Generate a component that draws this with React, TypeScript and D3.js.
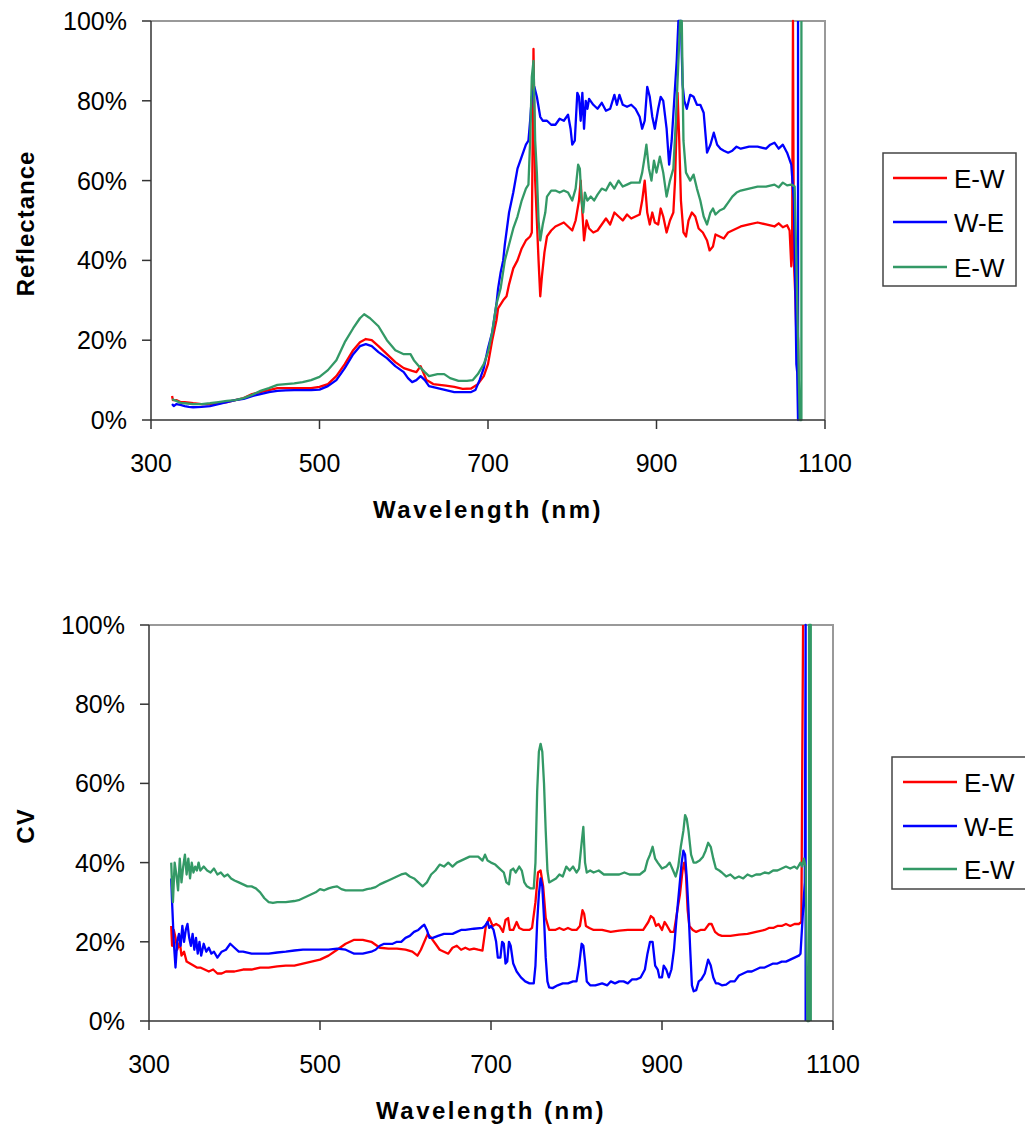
import React, { useRef, useEffect } from 'react';
import * as d3 from 'd3';

// wavelength (nm), percent
const reflEW1: [number, number][] = [
  [325, 6], [326, 5], [330, 5], [335, 4.5], [340, 4.5], [350, 4.2], [360, 4], [370, 4], [380, 4.2], [390, 4.5],
  [400, 5], [410, 5.5], [420, 6.5], [430, 7], [440, 7.5], [450, 8], [460, 8], [470, 8], [480, 8], [490, 8],
  [500, 8.3], [510, 9], [520, 11], [530, 14], [540, 17.5], [548, 19.5], [555, 20.3], [562, 20], [570, 18.5],
  [580, 16.5], [590, 14.5], [600, 13], [610, 12.3], [615, 12], [620, 13.5], [623, 12], [627, 10], [635, 9],
  [650, 8.6], [660, 8.3], [670, 7.8], [680, 7.9], [688, 9], [695, 11], [700, 14], [705, 20], [710, 25], [712, 28],
  [718, 30], [722, 31], [725, 34], [730, 38], [735, 40], [740, 43], [745, 45], [750, 46], [752, 47], [754, 93],
  [756, 60], [758, 50], [760, 40], [762, 31], [764, 36], [767, 42], [770, 46], [775, 47.5], [780, 48.5], [785, 49],
  [790, 49.5], [795, 48.5], [800, 47.5], [804, 50], [808, 55], [810, 60], [812, 52], [814, 45], [817, 50], [820, 48],
  [825, 47], [830, 47.5], [835, 49], [840, 50.5], [845, 49], [850, 52], [855, 51], [860, 50], [865, 51.5], [870, 50.5],
  [875, 51], [880, 51.5], [883, 55], [886, 60], [889, 52], [892, 49], [895, 52], [898, 49.5], [902, 49], [905, 53],
  [908, 51], [912, 47], [916, 50], [920, 52], [922, 60], [925, 82], [927, 70], [929, 55], [932, 47], [935, 46],
  [938, 50], [942, 52], [946, 51], [950, 48], [955, 47], [960, 45], [963, 42.5], [967, 43.5], [970, 46.5], [975, 46],
  [980, 45.5], [985, 47], [990, 47.5], [1000, 48.5], [1010, 49], [1020, 49.5], [1030, 49], [1040, 48.5], [1045, 49.3],
  [1050, 48.3], [1055, 48.8], [1058, 47.5], [1060, 38.5], [1061, 46], [1062, 100], [1063, 40], [1065, 30], [1066, 21],
  [1067, 25], [1068, 20], [1069, 0]
];

const reflWE: [number, number][] = [
  [325, 4], [327, 3.5], [330, 4], [335, 3.8], [340, 3.5], [345, 3.3], [350, 3.2], [360, 3.3], [370, 3.5], [380, 4],
  [390, 4.5], [400, 5], [410, 5.3], [420, 6], [430, 6.5], [440, 7], [450, 7.3], [460, 7.4], [470, 7.5], [480, 7.5],
  [490, 7.5], [500, 7.6], [510, 8.5], [520, 10], [530, 13], [540, 16.5], [548, 18.5], [555, 19], [562, 18.5], [570, 17],
  [580, 15.5], [590, 13.5], [600, 12], [605, 10.5], [610, 9.5], [615, 10], [620, 11], [625, 10], [630, 8.5], [640, 8],
  [650, 7.5], [660, 7], [670, 7], [680, 7], [685, 7.5], [690, 10], [695, 13], [700, 18], [705, 22], [710, 29], [712, 33],
  [715, 37], [718, 40], [720, 44], [725, 52], [730, 57], [735, 63], [740, 66], [745, 69], [748, 70], [750, 75], [752, 81],
  [755, 83.5], [758, 81], [762, 76], [765, 75], [770, 75], [775, 74], [780, 74], [785, 75.5], [790, 75], [795, 76.5],
  [798, 73], [800, 69], [803, 70], [806, 82], [808, 81], [810, 75], [812, 82], [814, 73], [816, 80], [818, 78],
  [820, 80.5], [825, 79], [830, 78], [835, 79.5], [840, 77.5], [845, 78], [850, 81.5], [853, 79], [856, 81.5], [860, 79],
  [865, 78.5], [870, 79], [875, 78], [880, 76], [883, 73], [886, 75], [889, 83.5], [892, 81], [895, 76], [898, 73],
  [902, 78], [905, 81], [908, 80], [912, 73], [915, 64], [918, 70], [921, 80], [924, 90], [926, 100], [929, 100],
  [931, 84], [933, 80], [936, 78], [940, 81.5], [944, 81], [948, 79], [952, 79], [956, 77], [960, 67], [964, 69],
  [968, 72], [972, 69], [976, 68], [980, 67.5], [985, 67], [990, 67.5], [995, 68.5], [1000, 68], [1010, 68.5],
  [1020, 68.5], [1030, 68], [1035, 69], [1040, 69.5], [1045, 68], [1050, 69], [1055, 67], [1060, 64], [1063, 55],
  [1065, 30], [1066, 14], [1067, 12], [1068, 0], [1068, 100]
];

const reflEW2: [number, number][] = [
  [325, 5.2], [330, 4.8], [335, 4.3], [340, 4.2], [350, 4], [360, 4], [370, 4.2], [380, 4.5], [390, 4.8], [400, 5],
  [410, 5.5], [420, 6.3], [430, 7.3], [440, 8], [450, 8.8], [460, 9], [470, 9.2], [480, 9.5], [490, 10], [500, 10.8],
  [510, 12.5], [520, 15], [530, 19.5], [540, 23], [548, 25.5], [553, 26.5], [560, 25.5], [570, 23.5], [580, 20],
  [590, 17.5], [600, 16.5], [608, 16.5], [612, 15], [618, 13.5], [625, 12], [630, 11], [640, 11.5], [648, 11.5],
  [655, 10.5], [665, 9.8], [675, 9.8], [682, 10], [688, 11.5], [695, 14], [700, 17], [705, 22], [710, 29], [715, 33],
  [720, 40], [725, 44], [730, 48], [735, 51], [740, 55], [745, 58], [748, 59], [750, 70], [752, 86], [754, 90],
  [756, 70], [758, 62], [760, 50], [762, 45], [765, 49], [768, 52], [770, 56], [775, 57.5], [780, 57.5], [785, 57],
  [790, 57.5], [795, 57], [800, 55], [804, 58], [807, 64], [809, 63], [811, 55], [813, 52], [815, 57], [818, 55],
  [822, 56], [826, 55], [830, 56.5], [835, 58], [840, 57.5], [845, 59.5], [850, 58], [855, 60], [860, 58.5], [865, 59],
  [870, 59.5], [875, 59.5], [880, 59.5], [883, 62], [886, 66], [888, 69], [891, 63], [894, 60], [897, 65], [900, 62],
  [904, 66], [908, 62], [912, 56], [916, 60], [920, 63], [923, 75], [926, 90], [928, 100], [930, 100], [932, 70],
  [935, 62], [940, 60], [944, 61.5], [948, 58], [952, 55], [956, 51], [960, 49], [964, 52], [967, 53], [970, 51.5],
  [975, 52.5], [980, 53], [985, 54.5], [990, 56], [995, 57], [1000, 57.5], [1010, 58], [1020, 58.5], [1030, 58.5],
  [1040, 59], [1045, 58.3], [1050, 59.5], [1055, 58.8], [1060, 59], [1064, 58.5], [1066, 40], [1070, 0], [1072, 0],
  [1072, 100]
];

const cvEW1: [number, number][] = [
  [326, 24], [327, 19], [329, 23], [331, 21], [333, 18], [336, 20], [338, 16.5], [341, 17.5], [344, 15], [348, 14.5],
  [352, 14], [356, 13.5], [360, 13.5], [365, 13], [370, 12.5], [375, 13], [380, 12], [385, 12], [390, 12.5], [400, 12.5],
  [410, 13], [420, 13], [430, 13.5], [440, 13.5], [450, 13.8], [460, 14], [470, 14], [480, 14.5], [490, 15], [500, 15.5],
  [510, 16.5], [520, 18], [530, 19.5], [540, 20.5], [550, 20.5], [560, 20], [570, 18.5], [580, 18.3], [590, 18.3],
  [600, 18], [608, 17.5], [614, 16.5], [618, 18], [622, 20], [626, 22], [630, 21], [635, 19.5], [640, 18], [645, 17.5],
  [650, 17], [655, 18.5], [660, 19], [665, 18], [670, 18.5], [675, 18], [680, 18.3], [685, 18], [690, 17.8], [694, 24],
  [698, 26], [702, 24], [706, 24.5], [710, 24], [714, 22.5], [717, 25.5], [720, 26], [722, 23], [726, 23], [730, 25],
  [733, 23.5], [738, 23], [745, 23], [748, 23.5], [752, 30], [755, 37.5], [758, 38], [761, 34], [764, 26], [768, 23],
  [775, 23], [780, 23.5], [785, 23], [790, 23.5], [795, 23], [800, 23], [804, 24], [807, 28], [809, 27], [811, 24],
  [815, 23.5], [820, 23], [830, 23], [840, 22.5], [850, 22.8], [860, 23], [870, 23], [878, 23], [884, 25], [887, 26.5],
  [890, 26], [893, 24], [896, 24.5], [900, 23], [903, 25], [906, 24], [910, 22.5], [914, 22.5], [918, 28], [921, 32],
  [924, 38], [926, 40], [928, 37], [930, 28], [932, 24], [936, 23], [940, 22.5], [945, 23], [950, 23], [955, 24.5],
  [958, 24.5], [962, 22.5], [966, 21.8], [970, 21.5], [980, 21.5], [990, 21.8], [1000, 22], [1010, 22.5], [1020, 23],
  [1025, 23.5], [1030, 23.5], [1035, 24], [1040, 24], [1045, 24.5], [1050, 24], [1055, 24.5], [1060, 24.5],
  [1063, 25], [1065, 100]
];

const cvWE: [number, number][] = [
  [326, 36], [327, 30], [329, 20], [331, 13.5], [333, 20], [335, 22], [337, 19], [339, 24], [341, 20], [343, 23],
  [345, 24.5], [347, 21], [349, 19], [351, 22], [353, 18], [355, 21], [357, 17], [359, 20], [361, 16.5], [364, 19.5],
  [367, 17.5], [370, 18.5], [373, 17], [376, 17.5], [380, 16], [385, 17.5], [390, 18], [395, 19.5], [400, 18.5],
  [405, 17.5], [410, 17.5], [420, 17], [430, 17], [440, 17], [450, 17.3], [460, 17.5], [470, 17.8], [480, 18], [490, 18],
  [500, 18], [510, 18], [520, 18.3], [530, 18], [540, 17], [550, 17], [560, 17.5], [565, 18], [570, 19], [575, 19.5],
  [580, 19.5], [585, 19.5], [590, 20], [595, 20], [600, 21], [605, 21.5], [610, 22.5], [615, 23], [620, 24], [622, 24.3],
  [625, 23], [628, 21], [632, 21], [638, 21.5], [645, 22], [650, 22], [655, 22], [660, 22.5], [665, 23], [670, 23],
  [680, 23.3], [690, 23.5], [693, 24], [696, 25], [698, 23.5], [700, 24], [703, 23], [706, 20], [708, 16], [711, 16],
  [713, 20], [715, 19.5], [717, 14.5], [719, 15], [721, 20], [723, 19], [726, 14.5], [730, 12.5], [735, 11], [740, 10],
  [745, 9.5], [750, 9.5], [752, 14], [754, 25], [756, 32], [758, 36], [760, 34], [762, 26], [764, 16], [766, 10],
  [768, 8.5], [772, 8.3], [778, 9], [784, 9.5], [790, 9.5], [796, 10], [800, 10], [803, 14], [806, 19.5], [808, 19],
  [810, 15], [812, 10], [816, 9], [822, 9], [830, 9.5], [836, 9], [840, 10], [845, 9.5], [850, 10], [855, 10],
  [860, 9.5], [865, 10.5], [870, 10.5], [875, 11], [880, 13], [883, 17], [886, 20], [889, 20], [892, 14], [895, 13],
  [897, 11], [900, 11], [902, 14], [905, 13], [908, 11], [911, 13], [914, 18], [917, 26], [920, 33], [923, 40],
  [925, 43], [927, 42], [929, 36], [931, 28], [933, 18], [935, 9], [937, 7.5], [940, 7.8], [943, 10], [946, 10.5],
  [950, 12], [954, 15.5], [957, 14], [960, 11], [963, 9.5], [966, 9.5], [970, 9], [975, 9.2], [980, 10], [985, 10],
  [990, 11.5], [995, 12], [1000, 12.5], [1005, 12.5], [1010, 13], [1015, 13.5], [1020, 13.5], [1025, 14], [1030, 14.5],
  [1035, 14.5], [1040, 15], [1045, 15], [1050, 15.5], [1055, 16], [1060, 16.5], [1062, 17], [1065, 28], [1067, 35],
  [1068, 100], [1068, 0]
];

const cvEW2: [number, number][] = [
  [326, 40], [327, 34], [328, 30], [330, 40], [332, 37], [334, 33], [336, 41], [338, 35], [340, 39], [342, 42],
  [344, 37], [346, 41], [348, 36], [350, 40], [352, 37.5], [354, 39], [356, 38], [358, 40], [360, 38], [364, 39],
  [368, 38], [372, 37.5], [376, 38.5], [380, 37], [384, 37.5], [388, 36.5], [392, 37], [396, 36], [400, 35.5],
  [405, 35], [410, 34.5], [415, 34], [420, 34], [425, 33.5], [430, 32.5], [435, 31], [440, 30], [445, 29.8], [450, 30],
  [460, 30], [470, 30.3], [475, 30.5], [480, 31], [485, 31.5], [490, 32], [495, 32.5], [500, 33.3], [505, 33],
  [510, 33.5], [515, 33.8], [520, 34], [525, 33.3], [530, 33], [540, 33], [550, 33], [555, 33.3], [560, 33.5],
  [565, 33.8], [570, 34.5], [575, 35], [580, 35.5], [585, 36], [590, 36.5], [595, 37], [600, 37.3], [605, 36.5],
  [610, 36], [615, 35], [620, 34], [625, 35], [630, 37], [635, 38], [640, 39.5], [645, 39], [650, 40], [655, 39],
  [660, 40], [665, 40.5], [670, 41], [675, 41.5], [680, 41.5], [685, 41.5], [690, 40.5], [693, 42], [696, 40.5],
  [700, 40], [705, 39.5], [710, 38.5], [715, 37.5], [718, 35], [721, 34.5], [723, 38], [726, 38.5], [729, 37.5],
  [733, 39], [736, 38], [739, 35], [742, 34], [746, 33.5], [750, 33.5], [752, 40], [754, 58], [756, 68], [758, 70],
  [760, 68], [762, 60], [764, 48], [766, 38], [768, 35], [772, 35.5], [776, 36], [780, 37], [784, 36.5], [788, 39],
  [792, 38], [796, 39], [800, 37.5], [803, 38.5], [806, 45], [808, 49], [810, 40], [812, 37.5], [816, 38], [820, 37.5],
  [826, 38], [832, 37], [838, 37], [844, 37], [850, 37], [856, 37.5], [862, 37], [868, 37], [874, 37], [880, 38],
  [883, 40.5], [886, 42], [889, 44], [892, 41], [895, 40], [900, 38.5], [905, 39], [909, 40], [913, 38], [916, 36.5],
  [919, 39], [922, 44], [925, 48], [927, 52], [929, 51], [931, 48], [934, 42], [937, 40], [940, 40], [944, 40.5],
  [948, 41.5], [951, 43], [954, 45], [957, 44], [960, 41], [963, 38.5], [967, 38], [970, 37.5], [975, 36.5], [980, 37],
  [985, 36], [990, 36.5], [995, 36], [1000, 37], [1005, 36.5], [1010, 37], [1015, 37], [1020, 37.5], [1025, 37.3],
  [1030, 38], [1035, 38], [1040, 38.5], [1045, 39], [1050, 38.5], [1055, 39], [1058, 38.5], [1062, 40], [1064, 39],
  [1066, 41], [1068, 39], [1070, 0], [1072, 0], [1072, 100], [1074, 100], [1074, 0]
];

const seriesNames = ['E-W', 'W-E', 'E-W'];
const seriesColors = ['#ff0000', '#0000ff', '#339966'];
const xTicks = [300, 500, 700, 900, 1100];
const yTicks = [0, 20, 40, 60, 80, 100];

const FONT = '"Liberation Sans", Arial, sans-serif';

type ChartCfg = {
  series: [number, number][][];
  yTitle: string;
  left: number; right: number; top: number; bottom: number;
  legend: { x: number; y: number; w: number; h: number; rows: number[]; lineX: [number, number]; textX: number };
};

const charts: ChartCfg[] = [
  {
    series: [reflEW1, reflWE, reflEW2],
    yTitle: 'Reflectance',
    left: 151, right: 825, top: 21, bottom: 420,
    legend: { x: 883, y: 153, w: 133, h: 133, rows: [178, 222, 267], lineX: [893, 947], textX: 954 }
  },
  {
    series: [cvEW1, cvWE, cvEW2],
    yTitle: 'CV',
    left: 149, right: 833, top: 625, bottom: 1021,
    legend: { x: 892, y: 757, w: 140, h: 132, rows: [782, 826, 869], lineX: [903, 957], textX: 964 }
  }
];

const App = () => {
  const svgRef = useRef<SVGSVGElement>(null);

  useEffect(() => {
    const svg = d3.select(svgRef.current);
    svg.selectAll('*').remove();

    charts.forEach(c => {
      const x = d3.scaleLinear().domain([300, 1100]).range([c.left, c.right]);
      const y = d3.scaleLinear().domain([0, 100]).range([c.bottom, c.top]);
      const g = svg.append('g');

      // gray frame top/right
      g.append('path')
        .attr('d', `M${c.left},${c.top}H${c.right}V${c.bottom}`)
        .attr('fill', 'none')
        .attr('stroke', '#999')
        .attr('stroke-width', 2);

      const line = d3.line<[number, number]>()
        .x(d => x(d[0]))
        .y(d => y(d[1]));

      c.series.forEach((s, i) => {
        g.append('path')
          .datum(s)
          .attr('d', line)
          .attr('fill', 'none')
          .attr('stroke', seriesColors[i])
          .attr('stroke-width', 2.3)
          .attr('stroke-linejoin', 'round');
      });

      // y axis
      g.append('line')
        .attr('x1', c.left).attr('x2', c.left)
        .attr('y1', c.top).attr('y2', c.bottom)
        .attr('stroke', '#333').attr('stroke-width', 1.5);
      yTicks.forEach(t => {
        g.append('line')
          .attr('x1', c.left - 9).attr('x2', c.left)
          .attr('y1', y(t)).attr('y2', y(t))
          .attr('stroke', '#333').attr('stroke-width', 1.5);
        g.append('text')
          .attr('x', c.left - 24)
          .attr('y', y(t) + 9)
          .attr('text-anchor', 'end')
          .style('font-family', FONT)
          .style('font-size', '25px')
          .text(t + '%');
      });

      // x axis
      g.append('line')
        .attr('x1', c.left).attr('x2', c.right)
        .attr('y1', c.bottom).attr('y2', c.bottom)
        .attr('stroke', '#333').attr('stroke-width', 1.5);
      xTicks.forEach(t => {
        g.append('line')
          .attr('x1', x(t)).attr('x2', x(t))
          .attr('y1', c.bottom).attr('y2', c.bottom + 9)
          .attr('stroke', '#333').attr('stroke-width', 1.5);
        g.append('text')
          .attr('x', x(t))
          .attr('y', c.bottom + 52)
          .attr('text-anchor', 'middle')
          .style('font-family', FONT)
          .style('font-size', '25px')
          .text(t);
      });

      g.append('text')
        .attr('x', (c.left + c.right) / 2)
        .attr('y', c.bottom + 98)
        .attr('text-anchor', 'middle')
        .style('font-family', FONT)
        .style('font-size', '24px')
        .style('font-weight', 'bold')
        .style('letter-spacing', '2.5px')
        .text('Wavelength (nm)');

      g.append('text')
        .attr('transform', `translate(34,${(c.top + c.bottom) / 2 + 3}) rotate(-90)`)
        .attr('text-anchor', 'middle')
        .style('font-family', FONT)
        .style('font-size', '24px')
        .style('font-weight', 'bold')
        .style('letter-spacing', '1px')
        .text(c.yTitle);

      // legend
      const L = c.legend;
      g.append('rect')
        .attr('x', L.x).attr('y', L.y)
        .attr('width', L.w).attr('height', L.h)
        .attr('fill', 'white')
        .attr('stroke', '#444').attr('stroke-width', 1.5);
      seriesNames.forEach((name, i) => {
        g.append('line')
          .attr('x1', L.lineX[0]).attr('x2', L.lineX[1])
          .attr('y1', L.rows[i]).attr('y2', L.rows[i])
          .attr('stroke', seriesColors[i]).attr('stroke-width', 2.5);
        g.append('text')
          .attr('x', L.textX)
          .attr('y', L.rows[i] + 10)
          .style('font-family', FONT)
          .style('font-size', '26px')
          .text(name);
      });
    });
  }, []);

  return (
    <svg
      ref={svgRef}
      width={1025}
      height={1128}
      style={{ position: 'absolute', left: 0, top: 0, background: 'white' }}
    />
  );
};

export default App;
